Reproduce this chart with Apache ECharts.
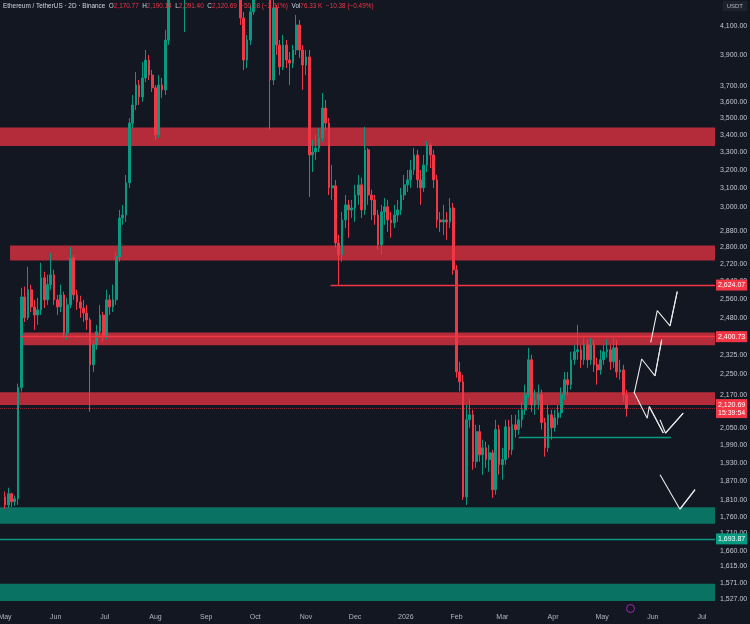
<!DOCTYPE html>
<html><head><meta charset="utf-8">
<script src="https://cdn.jsdelivr.net/npm/echarts@6/dist/echarts.min.js"></script>
<style>html,body{margin:0;padding:0;background:#131722;overflow:hidden}#c{width:750px;height:624px}</style>
</head><body><div id="c"></div>
<script>
// ---- data (2D candles, first candle opens 2025-05-01, one candle every 2 days) ----
const startDate = '2025-05-01T00:00Z';
const stepDays = 2;
const opens = [
 1821,1796,1831,1806,1815,2199,2571,2480,2603,2527,
 2492,2514,2657,2558,2626,2671,2558,2527,2580,2417,
 2536,2750,2580,2549,2522,2501,2471,2287,2367,2421,
 2492,2400,2558,2527,2558,2755,2946,2961,3130,3470,
 3580,3705,3630,3750,3868,3769,3687,3399,3705,3674,
 4004,4350,4620,4480,4440,4330,4340,4600,4780,4510,
 4370,4390,4330,4350,4300,4310,4470,4690,4600,4520,
 4590,4470,4450,4159,3868,4004,4203,4403,4480,4520,
 4370,4380,3737,4231,3970,3822,3970,3868,3848,3936,
 4109,3936,3835,3889,3284,3301,3324,3382,3561,3470,
 3103,3114,2822,2764,2936,3013,2987,2997,3065,3119,
 2987,3313,3065,3039,2961,2812,2977,3003,2936,2921,
 2961,2987,3065,3119,3146,3200,3284,3146,3103,3228,
 3341,3284,3146,2936,2926,2936,2926,2997,2694,2259,
 2221,1821,2080,2098,1935,2038,1958,1982,1942,1965,
 1844,2045,1925,1942,2055,1975,2062,2045,2080,2116,
 2172,2307,2134,2153,2172,2070,1982,2098,2052,2087,
 2105,2172,2229,2210,2307,2339,2347,2307,2367,2307,
 2367,2287,2267,2307,2339,2347,2299,2355,2259,2267,
 2170.77
];
const closes = [
 1796,1831,1806,1815,2199,2571,2480,2603,2527,2492,
 2514,2657,2558,2626,2671,2558,2527,2580,2417,2536,
 2750,2580,2549,2522,2501,2471,2287,2367,2421,2492,
 2400,2558,2527,2558,2755,2946,2961,3130,3470,3580,
 3705,3630,3750,3868,3769,3687,3399,3705,3674,4004,
 4350,4620,4480,4440,4330,4340,4600,4780,4510,4370,
 4390,4330,4350,4300,4310,4470,4690,4600,4520,4590,
 4470,4450,4159,3868,4004,4203,4403,4480,4520,4370,
 4380,3737,4231,3970,3822,3970,3868,3848,3936,4109,
 3936,3835,3889,3284,3301,3324,3382,3561,3470,3103,
 3114,2822,2764,2936,3013,2987,2997,3065,3119,2987,
 3313,3065,3039,2961,2812,2977,3003,2936,2921,2961,
 2987,3065,3119,3146,3200,3284,3146,3103,3228,3341,
 3284,3146,2936,2926,2936,2926,2997,2694,2259,2221,
 1821,2080,2098,1935,2038,1958,1982,1942,1965,1844,
 2045,1925,1942,2055,1975,2062,2045,2080,2116,2172,
 2307,2134,2153,2172,2070,1982,2098,2052,2087,2105,
 2172,2229,2210,2307,2339,2347,2307,2367,2307,2367,
 2287,2267,2307,2339,2347,2299,2355,2259,2267,2170.77,
 2120.69
];
const lows = [
 1784,1787,1790,1793,1796,2184,2462,2471,2505,2429,
 2450,2492,2522,2536,2603,2536,2492,2505,2396,2388,
 2522,2558,2514,2480,2462,2429,2109,2259,2347,2400,
 2380,2388,2492,2505,2536,2732,2911,2926,3103,3441,
 3549,3580,3599,3724,3737,3661,3370,3382,3624,3642,
 3970,4300,4420,4380,4300,4060,4320,4560,4470,4330,
 4310,4300,4310,4295,4295,4300,4440,4550,4450,4480,
 4420,4360,4109,3802,3815,3970,4181,4380,4420,4330,
 4300,3429,3705,3902,3769,3802,3815,3705,3815,3902,
 3882,3674,3769,3055,3189,3256,3301,3359,3429,3065,
 3039,2798,2625,2732,2896,2847,2946,2926,3013,2946,
 2961,3013,2936,2911,2788,2764,2911,2876,2847,2896,
 2926,2961,3039,3081,3103,3173,3103,3013,3081,3189,
 3211,3103,2896,2876,2861,2837,2896,2671,2237,2184,
 1812,1796,2052,1908,1915,1935,1892,1915,1902,1818,
 1828,1892,1876,1925,1948,1958,2017,2027,2052,2098,
 2160,2109,2098,2116,2045,1952,1968,2010,2038,2062,
 2087,2153,2172,2191,2287,2307,2275,2287,2275,2287,
 2259,2210,2248,2287,2315,2267,2275,2237,2229,2146,
 2091.40
];
const highs = [
 1838,1850,1834,1825,2214,2612,2617,2708,2626,2558,
 2567,2727,2685,2671,2774,2694,2580,2626,2594,2567,
 2802,2764,2603,2576,2558,2536,2480,2388,2450,2536,
 2505,2603,2580,2626,2779,2987,3013,3173,3500,3642,
 3789,3737,3855,3936,3902,3802,3705,3769,3750,4074,
 4518,4700,4680,4560,4480,4390,4680,4860,4800,4560,
 4450,4420,4400,4380,4360,4500,4770,4720,4650,4640,
 4620,4510,4480,4203,4039,4253,4479,4560,4600,4560,
 4440,4400,4327,4253,4004,4039,4004,3922,3970,4181,
 4145,3970,3936,3936,3370,3399,3441,3655,3611,3500,
 3228,3146,2861,2977,3065,3039,3039,3119,3173,3157,
 3447,3324,3092,3065,2987,3013,3049,3039,2977,3013,
 3039,3103,3173,3200,3256,3324,3313,3200,3284,3364,
 3353,3313,3173,2977,3013,2977,3049,3023,2717,2299,
 2248,2134,2160,2116,2062,2062,2010,2003,1992,1975,
 2080,2062,1982,2080,2080,2098,2098,2116,2146,2210,
 2355,2327,2191,2210,2191,2087,2134,2116,2116,2134,
 2199,2259,2259,2339,2367,2450,2367,2396,2388,2396,
 2388,2315,2347,2367,2388,2367,2396,2388,2307,2287,
 2190.14
];
// price tick labels shown on the right scale
const priceTicks = [4100,3900,3700,3600,3500,3400,3300,3200,3100,3000,2880,2800,2720,2640,2560,2480,2400,2325,2250,2170,2050,1990,1930,1870,1810,1760,1710,1660,1615,1571,1527];
// month tick labels
const monthTicks = ['2025-05-01','2025-06-01','2025-07-01','2025-08-01','2025-09-01','2025-10-01','2025-11-01','2025-12-01','2026-01-01','2026-02-01','2026-03-01','2026-04-01','2026-05-01','2026-06-01','2026-07-01'];
const monthNames = ['2026','Feb','Mar','Apr','May','Jun','Jul','Aug','Sep','Oct','Nov','Dec'];
// supply / demand zones [start date, low, high]
const redZones = [
 ['2025-04-27T22:40Z', 3335, 3443],
 ['2025-05-04T02:00Z', 2738, 2809],
 ['2025-05-10T14:00Z', 2365, 2418],
 ['2025-04-27T22:40Z', 2134, 2181]
];
const greenZones = [
 ['2025-04-27T22:40Z', 1739, 1789],
 ['2025-04-27T22:40Z', 1522, 1568]
];
// key levels
const levelHigh = { from: '2025-11-16T00:00Z', value: 2624.07 };
const levelMid = { from: '2025-05-10T14:00Z', value: 2400.73 };
const levelLow = 1693.87;
const supportSeg = { from: '2026-03-11T00:00Z', to: '2026-06-12T00:00Z', value: 2018 };
const lastTime = '15:39:54';
const volText = ['76.33 K', '\u221210.38 (\u22120.49%)'];
// projected paths [date, price]
const pathUpA = [['2026-05-20T16:00Z',2179],['2026-05-25T05:00Z',2310],['2026-06-02T07:00Z',2244],['2026-06-06T10:00Z',2388]];
const pathUpB = [['2026-05-30T17:00Z',2377],['2026-06-03T17:00Z',2511],['2026-06-11T12:00Z',2446],['2026-06-15T22:00Z',2595]];
const pathDown = [['2026-05-20T12:00Z',2181],['2026-05-28T14:00Z',2086],['2026-05-29T19:00Z',2128],['2026-06-07T10:00Z',2033]];
const pathCheckA = [['2026-06-05T10:00Z',2080],['2026-06-08T17:00Z',2033],['2026-06-19T14:00Z',2104]];
const pathCheckB = [['2026-06-05T10:00Z',1892],['2026-06-17T14:00Z',1783],['2026-06-26T19:00Z',1844]];

// ---- build ----
const T = s => Date.parse(s);
const DAY = 86400000;
const xMin = T('2025-04-27T22:40Z');
const xMax = T('2026-07-09T00:00Z');
const t0 = T(startDate);
const candleData = opens.map((o, i) => [t0 + i * stepDays * DAY, o, closes[i], lows[i], highs[i]]);
const fmt = v => Number(v).toLocaleString('en-US', {minimumFractionDigits: 2, maximumFractionDigits: 2});
const toPts = p => p.map(d => [T(d[0]), d[1]]);

const n = closes.length;
const lastC = closes[n - 1], prevC = closes[n - 2];
const chg = lastC - prevC;
const chgPct = chg / prevC * 100;
const sgn = v => (v < 0 ? '\u2212' : '+') + Math.abs(v).toFixed(2);

const RED = '#f23645', GREEN = '#089981';
const FONT = 'Liberation Sans, Arial, sans-serif';
const zoneArea = (z, color) => [{ xAxis: T(z[0]), yAxis: z[2], itemStyle: { color } }, { xAxis: xMax, yAxis: z[1] }];

const badge = (bg, text) => ({ show: true, position: 'end', distance: 1, color: '#ffffff', fontSize: 7, fontFamily: FONT, backgroundColor: bg, padding: [2, 2, 1, 2], lineHeight: 8, formatter: text });
const seg = (from, to, value, lbl) => [
  { coord: [from, value], label: lbl || { show: false } },
  { coord: [to, value] }
];
const levelSeries = (color, data) => ({
  type: 'line', data: [], z: 5, silent: true, color: color,
  markLine: { silent: true, symbol: ['none', 'none'], lineStyle: { color: color, width: 1.3, type: 'solid', opacity: 1 },
    emphasis: { disabled: true }, data: data }
});

const arrowSeries = (pts) => {
  const p = toPts(pts);
  return {
    type: 'line', data: p, showSymbol: false, symbol: 'none', z: 6, silent: true, color: '#e9e9ea',
    lineStyle: { color: '#e9e9ea', width: 1.1 },
    markLine: { silent: true, symbol: ['none', 'arrow'], symbolSize: [0, 6], label: { show: false },
      lineStyle: { color: '#e9e9ea', width: 1.1, type: 'solid' },
      data: [[{ coord: p[p.length - 2] }, { coord: p[p.length - 1] }]] }
  };
};

const chart = echarts.init(document.getElementById('c'), null, { renderer: 'canvas' });
chart.setOption({
  backgroundColor: '#131722',
  animation: false,
  textStyle: { fontFamily: FONT },
  title: {
    left: 3, top: 3, padding: 0,
    text: '{n|Ethereum / TetherUS \u00b7 2D \u00b7 Binance}  {k|O}{v|' + fmt(opens[n-1]) + '}  {k|H}{v|' + fmt(highs[n-1]) + '}  {k|L}{v|' + fmt(lows[n-1]) + '}  {k|C}{v|' + fmt(lastC) + '}  {v|' + sgn(chg) + ' (' + sgn(chgPct) + '%)}  {k|Vol}{v|' + volText[0] + '}  {v|' + volText[1] + '}',
    textStyle: { fontSize: 6.4, fontWeight: 'normal', rich: {
      n: { color: '#d1d4dc', fontSize: 6.4, fontWeight: 'normal' },
      k: { color: '#d1d4dc', fontSize: 6.4, fontWeight: 'normal' },
      v: { color: RED, fontSize: 6.4, fontWeight: 'normal' } } }
  },
  grid: { left: 0, right: 35, top: 0, bottom: 15, containLabel: false, outerBoundsMode: 'none' },
  xAxis: {
    type: 'value', min: xMin, max: xMax, scale: true,
    axisLine: { show: false }, axisTick: { show: false }, splitLine: { show: false },
    axisLabel: {
      customValues: monthTicks.map(d => T(d + 'T00:00Z')),
      formatter: v => monthNames[new Date(v).getUTCMonth()],
      color: '#b2b5be', fontSize: 7, margin: 5, hideOverlap: false
    }
  },
  yAxis: {
    type: 'log', logBase: 10, min: 1501, max: 4290, position: 'right',
    axisLine: { show: false }, axisTick: { show: false }, splitLine: { show: false },
    axisLabel: { customValues: priceTicks, formatter: v => fmt(v), color: '#c3c6ce', fontSize: 7, margin: 5 }
  },
  graphic: [
    { type: 'text', right: 3, top: 1, z: 100, style: { text: 'USDT', fill: '#b2b5be', fontSize: 6, backgroundColor: '#1e222d', padding: [2, 4], fontFamily: FONT } },
    { type: 'circle', left: 624, top: 602, z: 100, shape: { r: 4 }, style: { fill: 'none', stroke: '#9c27b0', lineWidth: 1 } }
  ],
  series: [
    {
      name: 'zones', type: 'line', data: [], z: 1, silent: true,
      markArea: { silent: true, data: [
        ...redZones.map(z => zoneArea(z, 'rgba(226,50,64,0.78)')),
        ...greenZones.map(z => zoneArea(z, 'rgba(8,140,118,0.78)'))
      ] }
    },
    {
      name: 'ETHUSDT', type: 'candlestick', z: 3, barWidth: 2.2, clip: true,
      encode: { x: 0, y: [1, 2, 3, 4] },
      data: candleData,
      itemStyle: { color: GREEN, color0: RED, borderColor: GREEN, borderColor0: RED, borderWidth: 1 }
    },
    levelSeries(RED, [
      seg(T(levelHigh.from), xMax, levelHigh.value, badge(RED, fmt(levelHigh.value))),
      seg(T(levelMid.from), xMax, levelMid.value, badge(RED, fmt(levelMid.value)))
    ]),
    {
      type: 'line', data: [], z: 5, silent: true, color: RED,
      markLine: { silent: true, symbol: ['none', 'none'], lineStyle: { color: 'rgba(242,54,69,0.55)', width: 1, type: 'dotted' },
        data: [{ yAxis: lastC, label: badge(RED, fmt(lastC) + '\n' + lastTime) }] }
    },
    levelSeries(GREEN, [
      seg(xMin, xMax, levelLow, badge(GREEN, fmt(levelLow))),
      seg(T(supportSeg.from), T(supportSeg.to), supportSeg.value)
    ]),
    arrowSeries(pathUpA),
    arrowSeries(pathUpB),
    arrowSeries(pathDown),
    arrowSeries(pathCheckA),
    arrowSeries(pathCheckB)
  ]
});
</script>
</body></html>
